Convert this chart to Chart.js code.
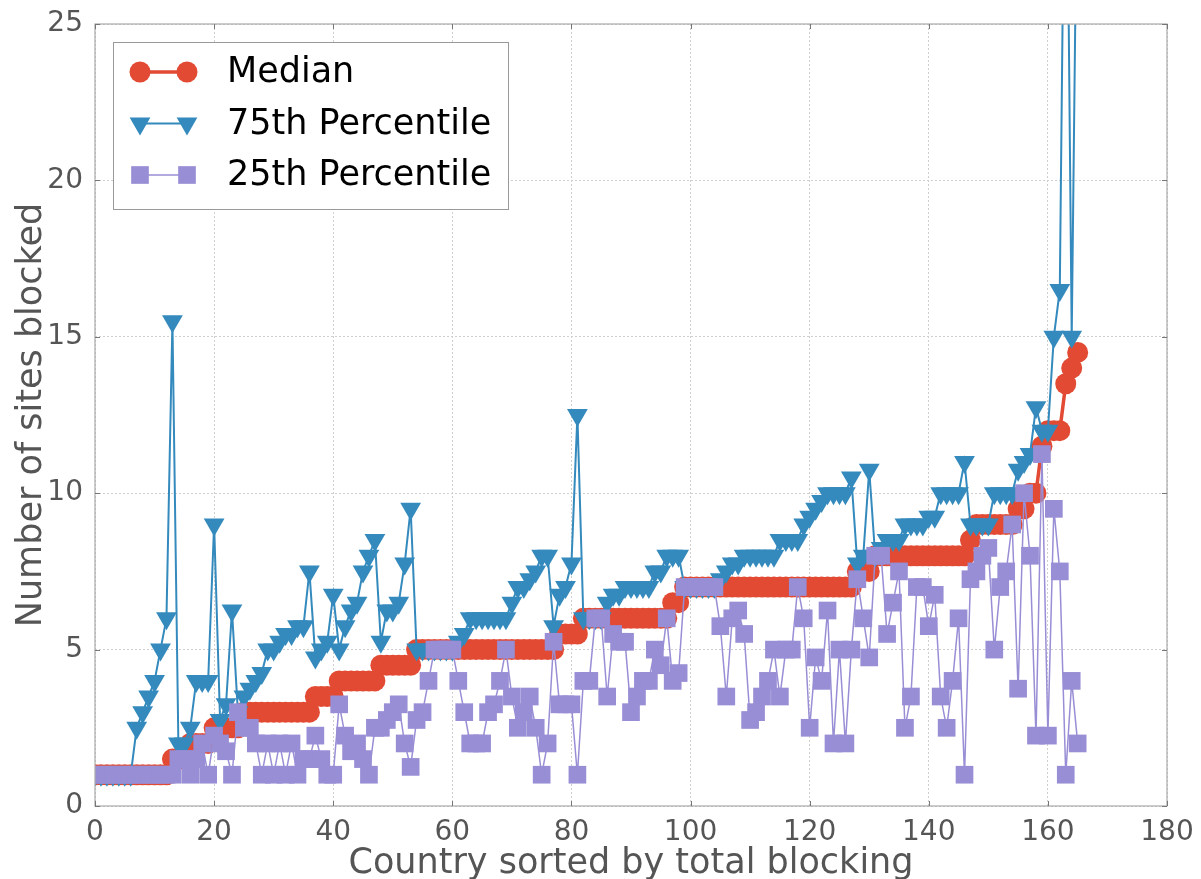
<!DOCTYPE html>
<html lang="en">
<head>
    <meta charset="UTF-8">
    <title>Sites blocked per country</title>
    <script src="https://cdn.jsdelivr.net/npm/chart.js"></script>
    <style>
        html, body { margin: 0; padding: 0; background: #fff; }
        canvas { display: block; }
    </style>
</head>
<body>
    <canvas id="myChart" width="1201" height="879"></canvas>

    <script>
        // values per country (index = rank by total blocking)
        const median = [
            1, 1, 1, 1, 1, 1, 1, 1, 1, 1,
            1, 1, 1, 1.5, 1.5, 1.5, 2, 2, 2, 2,
            2.5, 2.5, 2.5, 2.5, 2.5, 3, 3, 3, 3, 3,
            3, 3, 3, 3, 3, 3, 3, 3.5, 3.5, 3.5,
            3.5, 4, 4, 4, 4, 4, 4, 4, 4.5, 4.5,
            4.5, 4.5, 4.5, 4.5, 5, 5, 5, 5, 5, 5,
            5, 5, 5, 5, 5, 5, 5, 5, 5, 5,
            5, 5, 5, 5, 5, 5, 5, 5, 5.5, 5.5,
            5.5, 5.5, 6, 6, 6, 6, 6, 6, 6, 6,
            6, 6, 6, 6, 6, 6, 6, 6.5, 6.5, 7,
            7, 7, 7, 7, 7, 7, 7, 7, 7, 7,
            7, 7, 7, 7, 7, 7, 7, 7, 7, 7,
            7, 7, 7, 7, 7, 7, 7, 7, 7.5, 7.5,
            7.5, 8, 8, 8, 8, 8, 8, 8, 8, 8,
            8, 8, 8, 8, 8, 8, 8, 8.5, 9, 9,
            9, 9, 9, 9, 9, 9.5, 9.5, 10, 10, 11.5,
            12, 12, 12, 13.5, 14, 14.5
        ];
        const p75 = [
            1, 1, 1, 1, 1, 1, 1, 2.5, 3, 3.5,
            4, 5, 6, 15.5, 2, 2, 2.5, 4, 4, 4,
            9, 2.75, 3.25, 6.25, 3, 3.5, 3.75, 4, 4.25, 5,
            5, 5.25, 5.5, 5.5, 5.75, 5.75, 7.5, 4.75, 5, 5.25,
            6.75, 5, 5.75, 6.25, 6.5, 7.5, 8, 8.5, 5.25, 6.25,
            6.25, 6.5, 7.75, 9.5, 5, 5, 5, 5, 5, 5,
            5, 5.25, 5.5, 6, 6, 6, 6, 6, 6, 6,
            6.5, 7, 7, 7.25, 7.5, 8, 8, 5.75, 6.75, 7,
            7.75, 12.5, 6, 6, 6, 6, 6.5, 6.75, 6.75, 7,
            7, 7, 7, 7, 7.5, 7.5, 8, 8, 8, 7,
            7, 7, 7, 7, 7, 7.25, 7.5, 7.75, 7.75, 8,
            8, 8, 8, 8, 8, 8.5, 8.5, 8.5, 8.5, 9,
            9.25, 9.5, 9.75, 10, 10, 10, 10, 10.5, 7.75, 8,
            10.75, 8, 8.25, 8.5, 8.5, 8.5, 9, 9, 9, 9,
            9.25, 9.25, 10, 10, 10, 10, 11, 9, 9, 9,
            9, 10, 10, 10, 10, 10.75, 11, 11.25, 12.75, 12,
            12, 15, 16.5, 35, 15, 32
        ];
        const p25 = [
            1, 1, 1, 1, 1, 1, 1, 1, 1, 1,
            1, 1, 1, 1, 1.5, 1.5, 1, 1.5, 2, 1,
            2.25, 2, 1.75, 1, 3, 2.5, 2.5, 2, 1, 2,
            1, 2, 1, 2, 1, 1.5, 1.5, 2.25, 1.5, 1,
            1, 3.25, 2.25, 1.75, 2, 1.5, 1, 2.5, 2.5, 2.75,
            3, 3.25, 2, 1.25, 2.75, 3, 4, 5, 5, 5,
            5, 4, 3, 2, 2, 2, 3, 3.25, 4, 5,
            3.5, 2.5, 3, 3.5, 2.5, 1, 2, 5.25, 3.25, 3.25,
            3.25, 1, 4, 4, 6, 6, 3.5, 5.5, 5.25, 5.25,
            3, 3.5, 4, 4, 5, 4.5, 6, 4, 4.25, 7,
            7, 7, 7, 7, 7, 5.75, 3.5, 6, 6.25, 5.5,
            2.75, 3, 3.5, 4, 5, 3.5, 5, 5, 7, 6,
            2.5, 4.75, 4, 6.25, 2, 5, 2, 5, 7.25, 6,
            4.75, 8, 8, 5.5, 6.5, 7.5, 2.5, 3.5, 7, 7,
            5.75, 6.75, 3.5, 2.5, 4, 6, 1, 7.25, 7.5, 8,
            8.25, 5, 7, 7.5, 9, 3.75, 10, 8, 2.25, 11.25,
            2.25, 9.5, 7.5, 1, 4, 2
        ];
        const seriesNames = ["Median", "75th Percentile", "25th Percentile"];
        const xTicks = [0, 20, 40, 60, 80, 100, 120, 140, 160, 180];
        const yTicks = [0, 5, 10, 15, 20, 25];

        const FONT = "'DejaVu Sans', sans-serif";
        const RED = "#E24A33", BLUE = "#348ABD", PURPLE = "#988ED5";
        const GREY = "#555555";

        function toPoints(arr) {
            return arr.map((v, i) => ({ x: i, y: v }));
        }

        function drawMarker(ctx, kind, x, y, r) {
            ctx.beginPath();
            if (kind === "circle") {
                ctx.arc(x, y, r, 0, Math.PI * 2);
            } else if (kind === "tri") {
                ctx.moveTo(x - r * 0.866, y - r * 0.5);
                ctx.lineTo(x + r * 0.866, y - r * 0.5);
                ctx.lineTo(x, y + r);
                ctx.closePath();
            } else {
                let s = r * 0.707;
                ctx.rect(x - s, y - s, 2 * s, 2 * s);
            }
            ctx.fill();
        }

        // frame on all four sides + inward tick marks, like the original axes
        const framePlugin = {
            id: "frame",
            afterDatasetsDraw(chart) {
                const { ctx, chartArea: a, scales } = chart;
                ctx.save();
                ctx.strokeStyle = "#aaaaaa";
                ctx.lineWidth = 1.2;
                ctx.strokeRect(a.left, a.top, a.right - a.left, a.bottom - a.top);
                ctx.strokeStyle = "#777777";
                ctx.lineWidth = 1;
                ctx.beginPath();
                xTicks.forEach(v => {
                    let px = Math.round(scales.x.getPixelForValue(v)) + 0.5;
                    ctx.moveTo(px, a.bottom); ctx.lineTo(px, a.bottom - 5);
                    ctx.moveTo(px, a.top); ctx.lineTo(px, a.top + 5);
                });
                yTicks.forEach(v => {
                    let py = Math.round(scales.y.getPixelForValue(v)) + 0.5;
                    ctx.moveTo(a.left, py); ctx.lineTo(a.left + 5, py);
                    ctx.moveTo(a.right, py); ctx.lineTo(a.right - 5, py);
                });
                ctx.stroke();
                ctx.restore();
            }
        };

        // legend box drawn by hand: line with a marker at each end
        const legendPlugin = {
            id: "boxLegend",
            afterDraw(chart) {
                const ctx = chart.ctx;
                const styles = [
                    { color: RED, width: 3.5, kind: "circle", r: 10.5 },
                    { color: BLUE, width: 2, kind: "tri", r: 12 },
                    { color: PURPLE, width: 1.5, kind: "rect", r: 12.5 }
                ];
                ctx.save();
                ctx.fillStyle = "#ffffff";
                ctx.fillRect(113.5, 42.5, 395, 167);
                ctx.strokeStyle = "#999999";
                ctx.lineWidth = 1;
                ctx.strokeRect(113.5, 42.5, 395, 167);
                seriesNames.forEach((name, i) => {
                    let y = 72 + i * 51.5;
                    let s = styles[i];
                    ctx.strokeStyle = s.color;
                    ctx.fillStyle = s.color;
                    ctx.lineWidth = s.width;
                    ctx.beginPath();
                    ctx.moveTo(140, y); ctx.lineTo(187, y);
                    ctx.stroke();
                    drawMarker(ctx, s.kind, 140, y, s.r);
                    drawMarker(ctx, s.kind, 187, y, s.r);
                    ctx.fillStyle = "#000000";
                    ctx.font = "35px " + FONT;
                    ctx.textBaseline = "middle";
                    ctx.textAlign = "left";
                    ctx.fillText(name, 227, y + 1);
                });
                ctx.restore();
            }
        };

        new Chart(document.getElementById("myChart"), {
            type: "line",
            data: {
                datasets: [
                    {
                        label: seriesNames[0],
                        data: toPoints(median),
                        borderColor: RED,
                        backgroundColor: RED,
                        borderWidth: 3.5,
                        pointStyle: "circle",
                        pointRadius: 10.5,
                        pointBorderWidth: 0,
                        clip: 0,
                        order: 3
                    },
                    {
                        label: seriesNames[1],
                        data: toPoints(p75),
                        borderColor: BLUE,
                        backgroundColor: BLUE,
                        borderWidth: 2,
                        pointStyle: "triangle",
                        pointRotation: 180,
                        pointRadius: 12,
                        pointBorderWidth: 0,
                        clip: 0,
                        order: 2
                    },
                    {
                        label: seriesNames[2],
                        data: toPoints(p25),
                        borderColor: PURPLE,
                        backgroundColor: PURPLE,
                        borderWidth: 1.5,
                        pointStyle: "rect",
                        pointRadius: 12.5,
                        pointBorderWidth: 0,
                        clip: 0,
                        order: 1
                    }
                ]
            },
            options: {
                responsive: false,
                animation: false,
                layout: { autoPadding: false, padding: { left: 0, right: 34, top: 24, bottom: 0 } },
                plugins: {
                    legend: { display: false },
                    tooltip: { enabled: false }
                },
                scales: {
                    x: {
                        type: "linear",
                        min: 0,
                        max: 180,
                        afterBuildTicks: s => { s.ticks = xTicks.map(v => ({ value: v })); },
                        // fixed axis height; labels may hang past the plot edge
                        afterFit: s => { s.height = 73; s.paddingLeft = 0; s.paddingRight = 0; },
                        grid: { color: "#cfcfcf", lineWidth: 1, drawTicks: false },
                        border: { display: false, dash: [2, 2] },
                        ticks: { color: GREY, font: { family: FONT, size: 28 }, padding: 10, maxRotation: 0 },
                        title: {
                            display: true,
                            text: "Country sorted by total blocking",
                            color: GREY,
                            font: { family: FONT, size: 35 },
                            padding: { top: 0, bottom: -6 }
                        }
                    },
                    y: {
                        min: 0,
                        max: 25,
                        afterBuildTicks: s => { s.ticks = yTicks.map(v => ({ value: v })); },
                        afterFit: s => { s.width = 95; s.paddingTop = 0; s.paddingBottom = 0; },
                        grid: { color: "#cfcfcf", lineWidth: 1, drawTicks: false },
                        border: { display: false, dash: [2, 2] },
                        ticks: { color: GREY, font: { family: FONT, size: 28 }, padding: 12 },
                        title: {
                            display: true,
                            text: "Number of sites blocked",
                            color: GREY,
                            font: { family: FONT, size: 35 },
                            padding: { top: 11, bottom: 0 }
                        }
                    }
                }
            },
            plugins: [framePlugin, legendPlugin]
        });
    </script>
</body>
</html>
